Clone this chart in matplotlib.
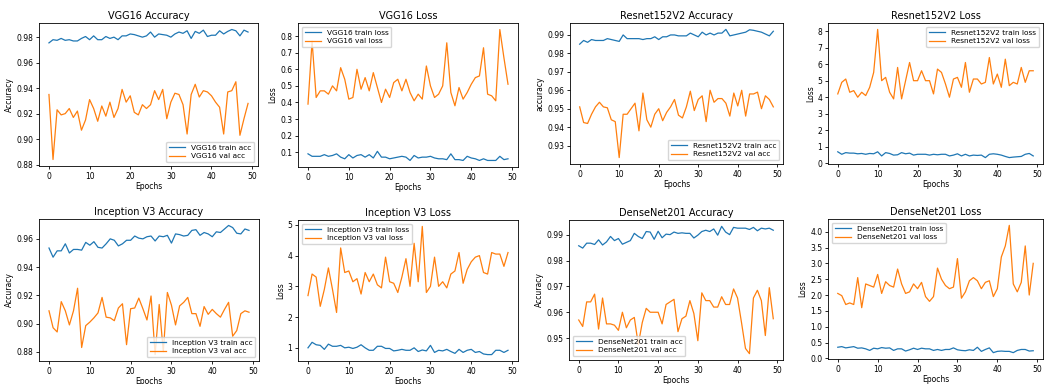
import matplotlib
matplotlib.use("Agg")
import matplotlib.pyplot as plt
import numpy as np

epochs = np.arange(50)

# VGG16
vgg_train_acc = [0.9755, 0.978, 0.9775, 0.979, 0.9775, 0.978, 0.977, 0.977, 0.979, 0.9805,
                 0.978, 0.981, 0.978, 0.978, 0.9805, 0.979, 0.980, 0.978, 0.981, 0.981,
                 0.9825, 0.982, 0.981, 0.980, 0.981, 0.984, 0.980, 0.9825, 0.982, 0.9815,
                 0.980, 0.9825, 0.984, 0.983, 0.985, 0.979, 0.9845, 0.983, 0.9855, 0.9805,
                 0.9815, 0.9815, 0.985, 0.9825, 0.9845, 0.986, 0.985, 0.981, 0.9855, 0.984]
vgg_val_acc = [0.935, 0.884, 0.923, 0.919, 0.920, 0.924, 0.917, 0.922, 0.907, 0.915,
               0.931, 0.924, 0.914, 0.926, 0.918, 0.929, 0.917, 0.924, 0.939, 0.929,
               0.934, 0.921, 0.919, 0.927, 0.924, 0.927, 0.938, 0.931, 0.939, 0.916,
               0.929, 0.936, 0.935, 0.927, 0.904, 0.935, 0.943, 0.933, 0.938, 0.937,
               0.934, 0.929, 0.925, 0.904, 0.937, 0.938, 0.945, 0.903, 0.916, 0.928]
vgg_train_loss = [0.09, 0.075, 0.075, 0.075, 0.085, 0.075, 0.08, 0.09, 0.07, 0.06,
                  0.085, 0.065, 0.08, 0.085, 0.07, 0.085, 0.065, 0.105, 0.07, 0.07,
                  0.06, 0.065, 0.07, 0.075, 0.07, 0.05, 0.08, 0.065, 0.07, 0.07,
                  0.075, 0.065, 0.06, 0.06, 0.055, 0.09, 0.055, 0.055, 0.05, 0.075,
                  0.065, 0.06, 0.05, 0.06, 0.05, 0.05, 0.05, 0.075, 0.055, 0.06]
vgg_val_loss = [0.39, 0.77, 0.43, 0.47, 0.47, 0.45, 0.50, 0.47, 0.61, 0.54,
                0.42, 0.43, 0.60, 0.48, 0.55, 0.47, 0.58, 0.49, 0.40, 0.48,
                0.43, 0.52, 0.54, 0.47, 0.54, 0.46, 0.41, 0.45, 0.42, 0.62,
                0.50, 0.43, 0.45, 0.50, 0.76, 0.46, 0.38, 0.49, 0.42, 0.46,
                0.51, 0.55, 0.56, 0.73, 0.45, 0.44, 0.41, 0.84, 0.67, 0.51]

# Resnet152V2
res_train_acc = [0.985, 0.987, 0.986, 0.9875, 0.987, 0.987, 0.987, 0.988, 0.9875, 0.987,
                 0.9865, 0.990, 0.988, 0.988, 0.988, 0.988, 0.9875, 0.988, 0.988, 0.989,
                 0.9875, 0.989, 0.989, 0.990, 0.990, 0.9895, 0.9895, 0.9895, 0.991, 0.990,
                 0.989, 0.9915, 0.990, 0.991, 0.990, 0.991, 0.991, 0.993, 0.9895, 0.990,
                 0.9905, 0.991, 0.9915, 0.9928, 0.9925, 0.992, 0.9915, 0.9905, 0.9895, 0.992]
res_val_acc = [0.951, 0.9425, 0.942, 0.947, 0.951, 0.9535, 0.951, 0.9505, 0.944, 0.943,
               0.9235, 0.947, 0.947, 0.950, 0.953, 0.938, 0.9585, 0.944, 0.940, 0.947,
               0.950, 0.9435, 0.948, 0.951, 0.955, 0.9465, 0.945, 0.951, 0.9595, 0.949,
               0.955, 0.957, 0.943, 0.960, 0.9535, 0.9555, 0.9555, 0.953, 0.946, 0.9585,
               0.9515, 0.960, 0.946, 0.958, 0.958, 0.959, 0.950, 0.957, 0.955, 0.951]
res_train_loss = [0.7, 0.55, 0.65, 0.62, 0.62, 0.58, 0.6, 0.55, 0.6, 0.58,
                  0.7, 0.45, 0.65, 0.6, 0.5, 0.52, 0.65, 0.58, 0.62, 0.5,
                  0.55, 0.55, 0.55, 0.5, 0.55, 0.52, 0.55, 0.55, 0.45, 0.5,
                  0.58, 0.45, 0.55, 0.45, 0.5, 0.48, 0.5, 0.35, 0.55, 0.58,
                  0.55, 0.5, 0.42, 0.35, 0.38, 0.4, 0.42, 0.55, 0.6, 0.45]
res_val_loss = [4.2, 4.9, 5.1, 4.3, 4.4, 4.0, 4.3, 4.1, 4.6, 5.5,
                8.1, 5.0, 5.2, 4.3, 3.9, 5.8, 3.9, 5.0, 6.1, 5.0,
                5.0, 5.6, 5.0, 5.0, 4.2, 5.7, 5.5, 4.8, 4.0, 5.1,
                5.2, 4.6, 6.1, 4.3, 5.1, 5.1, 4.8, 4.9, 6.4, 4.8,
                5.4, 4.6, 6.3, 4.7, 4.9, 4.8, 5.8, 4.9, 5.6, 5.6]

# Inception V3
inc_train_acc = [0.9535, 0.947, 0.9515, 0.9515, 0.9565, 0.950, 0.9525, 0.9525, 0.952, 0.9575,
                 0.9555, 0.958, 0.954, 0.9535, 0.9565, 0.960, 0.959, 0.955, 0.9565, 0.959,
                 0.959, 0.962, 0.9605, 0.960, 0.9615, 0.962, 0.9585, 0.962, 0.9615, 0.9625,
                 0.957, 0.9635, 0.963, 0.962, 0.9625, 0.966, 0.9665, 0.9625, 0.9645, 0.9635,
                 0.9615, 0.965, 0.9645, 0.967, 0.9695, 0.968, 0.964, 0.9635, 0.967, 0.966]
inc_val_acc = [0.909, 0.897, 0.894, 0.9155, 0.909, 0.899, 0.909, 0.925, 0.883, 0.8985,
               0.901, 0.904, 0.9075, 0.9185, 0.9045, 0.904, 0.902, 0.911, 0.914, 0.885,
               0.9105, 0.911, 0.918, 0.9105, 0.9025, 0.9195, 0.878, 0.9135, 0.880, 0.922,
               0.913, 0.899, 0.9125, 0.915, 0.9185, 0.907, 0.907, 0.898, 0.912, 0.9065,
               0.910, 0.907, 0.9045, 0.910, 0.915, 0.891, 0.895, 0.907, 0.909, 0.908]
inc_train_loss = [1.0, 1.18, 1.1, 1.08, 0.95, 1.12, 1.05, 1.05, 1.08, 1.0,
                  1.02, 0.98, 1.02, 1.1, 1.0, 0.92, 0.92, 1.05, 1.05, 0.98,
                  0.98, 0.9, 0.92, 0.95, 0.92, 0.92, 1.0, 0.88, 0.93, 0.9,
                  1.08, 0.85, 0.92, 0.9, 0.95, 0.88, 0.82, 0.95, 0.85, 0.92,
                  0.95, 0.85, 0.88, 0.8, 0.78, 0.78, 0.92, 0.92, 0.85, 0.92]
inc_val_loss = [2.7, 3.4, 3.3, 2.35, 2.9, 3.6, 2.9, 2.15, 4.25, 3.45,
                3.5, 3.15, 3.25, 2.75, 3.45, 3.15, 3.4, 3.05, 2.95, 3.95,
                3.15, 3.1, 2.8, 3.3, 3.9, 3.0, 4.4, 3.15, 4.95, 2.8,
                3.0, 3.95, 3.0, 3.15, 2.95, 3.4, 3.5, 4.1, 3.1, 3.55,
                3.8, 3.95, 4.0, 3.45, 3.4, 4.1, 4.05, 4.05, 3.65, 4.1]

# DenseNet201
dn_train_acc = [0.9857, 0.9848, 0.9867, 0.9867, 0.9862, 0.988, 0.986, 0.9872, 0.9893, 0.9877,
                0.9885, 0.9863, 0.987, 0.9877, 0.9905, 0.9893, 0.9885, 0.9912, 0.991, 0.9882,
                0.9913, 0.9888, 0.9902, 0.990, 0.991, 0.9905, 0.9907, 0.9905, 0.9905, 0.9887,
                0.9898, 0.9912, 0.9917, 0.9912, 0.9922, 0.9898, 0.9932, 0.991, 0.990, 0.9928,
                0.9925, 0.9925, 0.9925, 0.992, 0.9928, 0.9915, 0.9925, 0.9922, 0.9925, 0.9917]
dn_val_acc = [0.957, 0.9545, 0.964, 0.964, 0.967, 0.9535, 0.9655, 0.9555, 0.9555, 0.955,
              0.953, 0.960, 0.954, 0.957, 0.958, 0.9475, 0.956, 0.9615, 0.960, 0.960,
              0.960, 0.9555, 0.963, 0.964, 0.965, 0.9525, 0.9575, 0.9585, 0.9645, 0.9595,
              0.949, 0.9675, 0.9645, 0.9645, 0.962, 0.962, 0.966, 0.963, 0.963, 0.969,
              0.9655, 0.956, 0.946, 0.944, 0.9655, 0.9685, 0.9645, 0.951, 0.9695, 0.9575]
dn_train_loss = [0.35, 0.37, 0.33, 0.35, 0.37, 0.32, 0.33, 0.3, 0.25, 0.32,
                 0.3, 0.34, 0.32, 0.33, 0.25, 0.3, 0.3, 0.23, 0.27, 0.32,
                 0.28, 0.32, 0.3, 0.3, 0.25, 0.28, 0.25, 0.28, 0.28, 0.33,
                 0.27, 0.25, 0.24, 0.27, 0.25, 0.35, 0.22, 0.28, 0.33, 0.18,
                 0.22, 0.23, 0.22, 0.22, 0.18, 0.25, 0.28, 0.28, 0.23, 0.24]
dn_val_loss = [2.05, 1.98, 1.7, 1.75, 1.7, 2.55, 1.6, 2.35, 2.3, 2.25,
               2.65, 2.05, 2.42, 2.3, 2.25, 2.82, 2.35, 2.05, 2.1, 2.35,
               2.2, 2.4, 1.95, 1.8, 1.95, 2.85, 2.5, 2.3, 2.2, 2.25,
               3.15, 1.9, 2.1, 2.45, 2.55, 2.45, 2.2, 2.4, 2.45, 1.95,
               2.2, 3.2, 3.55, 4.2, 2.35, 2.1, 2.4, 3.55, 2.0, 3.0]

# panel: title, ylabel, series1, series2, label1, label2, legend loc
panels = [
    ("VGG16 Accuracy", "Accuracy", vgg_train_acc, vgg_val_acc, "VGG16 train acc", "VGG16 val acc", "lower right"),
    ("VGG16 Loss", "Loss", vgg_train_loss, vgg_val_loss, "VGG16 train loss", "VGG16 val loss", "upper left"),
    ("Resnet152V2 Accuracy", "accuracy", res_train_acc, res_val_acc, "Resnet152V2 train acc", "Resnet152V2 val acc", "lower right"),
    ("Resnet152V2 Loss", "Loss", res_train_loss, res_val_loss, "Resnet152V2 train loss", "Resnet152V2 val loss", "upper right"),
    ("Inception V3 Accuracy", "Accuracy", inc_train_acc, inc_val_acc, "Inception V3 train acc", "Inception V3 val acc", "lower right"),
    ("Inception V3 Loss", "Loss", inc_train_loss, inc_val_loss, "Inception V3 train loss", "Inception V3 val loss", "upper left"),
    ("DenseNet201 Accuracy", "Accuracy", dn_train_acc, dn_val_acc, "DenseNet201 train acc", "DenseNet201 val acc", "lower left"),
    ("DenseNet201 Loss", "Loss", dn_train_loss, dn_val_loss, "DenseNet201 train loss", "DenseNet201 val loss", "upper left"),
]

# axes boxes in pixels (left, top, right, bottom)
boxes = [(39, 23, 258, 166), (298, 23, 518, 167), (570, 23, 783, 164), (828, 23, 1043, 164),
         (39, 219, 259, 361), (298, 220, 518, 361), (569, 220, 783, 360), (828, 219, 1043, 359)]

W, H = 1044, 384
fig = plt.figure(figsize=(W / 100, H / 100), dpi=100)

for (title, ylab, s1, s2, l1, l2, loc), (x0, y0, x1, y1) in zip(panels, boxes):
    ax = fig.add_axes([x0 / W, 1 - y1 / H, (x1 - x0) / W, (y1 - y0) / H])
    ax.plot(epochs, s1, color="#1f77b4", lw=0.9, label=l1)
    ax.plot(epochs, s2, color="#ff7f0e", lw=0.9, label=l2)
    ax.set_title(title, fontsize=7, pad=3)
    ax.set_xlabel("Epochs", fontsize=5.5, labelpad=1)
    ax.set_ylabel(ylab, fontsize=5.5, labelpad=2)
    ax.tick_params(labelsize=5.5, length=2.5, width=0.6, pad=1.5)
    for sp in ax.spines.values():
        sp.set_linewidth(0.6)
    ax.set_xticks([0, 10, 20, 30, 40, 50])
    ax.legend(loc=loc, fontsize=5.3, handlelength=2.2, borderpad=0.4, labelspacing=0.3)

fig.savefig("out.png", dpi=100)
